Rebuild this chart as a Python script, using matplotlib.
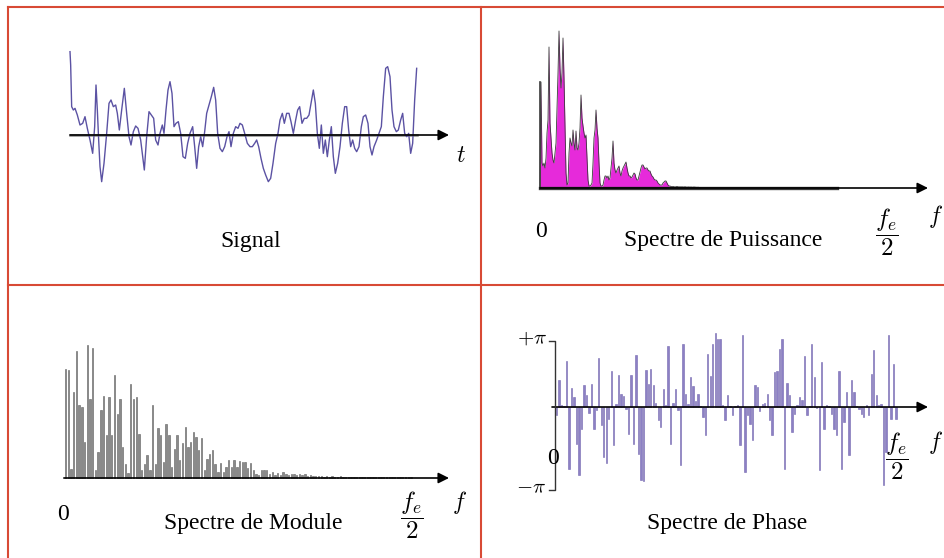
import numpy as np
import matplotlib
matplotlib.use('Agg')
import matplotlib.pyplot as plt
from matplotlib.lines import Line2D

plt.rcParams['mathtext.fontset'] = 'cm'
plt.rcParams['font.family'] = ['Liberation Serif', 'DejaVu Serif']

# ---------------- data ----------------
# signal: sample position and amplitude
signal_t = [0, 2, 5, 10, 15, 22, 30, 38, 45, 52, 60, 68, 74, 78, 82, 86, 90, 95, 102, 110,
            117, 123, 130, 137, 142, 148, 155, 163, 170, 177, 183, 190, 197, 204, 212, 218,
            223, 230, 237, 244, 251, 257, 264, 270, 277, 282, 288, 294, 300, 306, 312, 318,
            325, 332, 339, 346, 353, 360, 368, 374, 380, 386, 392, 398, 404, 410, 417, 424,
            431, 437, 443, 450, 457, 464, 471, 477, 483, 490, 497, 504, 510, 517, 524, 532,
            540, 547, 554, 560, 566, 573, 580, 587, 595, 602, 609, 617, 624, 630, 637, 643,
            650, 657, 663, 670, 677, 683, 689, 696, 703, 710, 717, 724, 730, 736, 742, 748,
            754, 760, 766, 772, 778, 784, 790, 796, 803, 810, 817, 824, 830, 836, 842, 848,
            854, 860, 867, 874, 880, 887, 894, 900, 906, 912, 920, 927, 934, 940, 947, 953,
            960, 966, 972, 979, 985, 992, 998, 1004, 1010, 1016, 1022, 1028, 1034, 1040]
signal_v = [2.50, 2.10, 0.85, 0.75, 0.80, 0.60, 0.30, 0.35, 0.55, 0.20, -0.15, -0.55, 0.25,
            1.50, 0.75, -0.15, -0.95, -1.40, -0.85, 0.05, 0.95, 1.05, 0.85, 0.90, 0.65, 0.15,
            0.75, 1.40, 0.65, -0.05, -0.30, 0.10, 0.27, 0.20, -0.15, -0.65, -1.05, -0.05, 0.70,
            0.60, 0.50, -0.15, -0.30, 0.05, 0.30, 0.05, 0.75, 1.35, 1.60, 1.25, 0.25, 0.35,
            0.40, 0.05, -0.65, -0.70, -0.25, 0.05, 0.25, -0.35, -1.00, -0.35, -0.05, -0.35,
            0.10, 0.65, 0.90, 1.15, 1.43, 1.05, 0.05, -0.40, -0.50, -0.35, -0.05, 0.10, -0.35,
            0.05, 0.25, 0.20, 0.35, 0.30, 0.05, -0.25, -0.35, -0.35, -0.25, -0.15, -0.35,
            -0.70, -1.00, -1.20, -1.40, -1.30, -0.85, -0.25, 0.05, 0.45, 0.65, 0.35, 0.65,
            0.65, 0.40, 0.05, 0.45, 0.75, 0.85, 0.35, 0.50, 0.50, 0.60, 1.00, 1.35, 0.95,
            0.05, -0.40, 0.30, -0.55, -0.15, -0.65, -0.15, 0.25, -0.65, -1.15, -0.85, -0.35,
            0.35, 0.85, 0.85, 0.15, -0.35, -0.15, -0.40, -0.50, -0.35, 0.25, 0.55, 0.60,
            0.35, -0.35, -0.60, -0.35, -0.15, 0.05, 0.25, 1.15, 2.00, 2.05, 1.75, 0.75, 0.25,
            0.10, 0.15, 0.45, 0.65, 0.05, -0.05, 0.05, -0.55, -0.25, 1.05, 2.00]

# power spectrum, one value per frequency bin
power = [0, 106, 25, 22, 25, 20, 30, 55, 68, 141, 65, 50, 35, 28, 25, 35, 45, 80, 115, 157,
         120, 100, 115, 150, 110, 60, 15, 3, 5, 35, 50, 45, 42, 58, 45, 38, 57, 40, 38, 45,
         60, 93, 70, 62, 55, 50, 53, 30, 8, 2, 2, 3, 5, 25, 50, 58, 78, 60, 50, 25,
         5, 2, 2, 3, 8, 12, 12, 10, 12, 8, 10, 20, 30, 47, 25, 18, 15, 18, 20, 22,
         15, 12, 17, 20, 22, 24, 26, 20, 15, 12, 12, 10, 11, 13, 15, 14, 10, 8, 8, 12,
         16, 20, 23, 23, 21, 19, 20, 20, 18, 17, 17, 14, 12, 11, 9, 8, 8, 7, 5, 4,
         3, 3, 3, 5, 6, 7, 7, 5, 3, 2, 2, 1.5, 1.2, 1.5, 1.2, 1.0, 1.2, 1.5, 1.2, 1.0,
         1.2, 1.0, 1.2, 1.0, 1.0, 1.2, 1.0, 0.8, 1.0, 1.0, 0.8, 1.0, 0.8, 0.8, 1.0, 0.8,
         0.8, 0.6, 0.8, 0.6, 0]

# module spectrum, one bar per frequency bin
module = [109, 108, 9, 86, 127, 73, 71, 36, 133, 79, 130, 8, 26, 68, 82, 43, 81, 43, 103, 64,
          79, 31, 14, 5, 94, 79, 81, 44, 8, 14, 23, 8, 73, 14, 50, 43, 16, 54, 43, 11,
          29, 43, 18, 35, 51, 31, 36, 46, 41, 28, 40, 8, 19, 24, 28, 14, 6, 15, 6, 11,
          18, 11, 18, 11, 17, 16, 16, 10, 15, 8, 4, 3, 8, 8, 8, 4, 6, 3, 5, 3,
          6, 4, 3, 4, 4, 3, 4, 3, 4, 2, 3, 2, 2, 2, 2, 1.5, 2, 1.5, 2, 1.5,
          1.5, 2, 1.5, 1.5, 1.5, 1.2, 1.5, 1.5, 1.2, 1.5, 1.2, 1.2, 1.5, 1.2, 1.2, 1.2,
          1, 1.2, 1.2, 1, 1.2, 1, 1, 1.2, 1, 1, 1, 1]

# phase spectrum, one bar per frequency bin
phase = [-8, 27, 2, 1, 46, -62, 19, 10, -37, -68, -22, 22, 12, -6, 23, -22, -3, 49, -18, -50,
         -56, -12, 36, -38, 3, 32, 13, 11, -2, -27, 32, -37, 52, -47, -73, -74, 37, 23, 38, 22,
         4, -13, -20, 18, 2, 61, -37, 4, 18, -3, -58, 63, 13, 3, 30, 21, 6, 13, 1, -10,
         -28, 53, 31, 63, 74, 68, 68, 2, -13, 12, 1, -8, 1, 2, -38, 72, -65, -8, -17, -33,
         22, 20, -4, 3, 4, 13, -13, -28, 35, 36, 58, 68, -62, 24, 12, -25, -7, 2, 10, 7,
         51, -8, 1, 63, 30, -1, -63, 45, -22, 2, 1, -7, -22, -28, 36, -62, -15, 15, -48, 27,
         15, 1, -2, -7, -10, 2, -8, 33, 57, 12, 2, 3, -78, -45, 72, -12, 43, -12]

panel_titles = ['Signal', 'Spectre de Puissance', 'Spectre de Module', 'Spectre de Phase']

# ---------------- figure ----------------
W, H = 944, 558
fig = plt.figure(figsize=(W / 100, H / 100), dpi=100)
fig.patch.set_facecolor('white')


def fx(x):
    return x / W


def fy(y):
    return 1 - y / H


def cell_axes(left, top, right, bottom, px0, sx, py0, sy):
    # axes over one cell, data x=0 at pixel px0, y=0 at pixel py0
    ax = fig.add_axes([fx(left), fy(bottom), (right - left) / W, (bottom - top) / H])
    ax.set_xlim((left - px0) / sx, (right - px0) / sx)
    ax.set_ylim((py0 - bottom) / sy, (py0 - top) / sy)
    ax.axis('off')
    return ax


arrow = dict(arrowstyle='-|>', color='black', lw=1.2, mutation_scale=16,
             shrinkA=0, shrinkB=0)
txt = dict(fontsize=17, ha='center', va='center')
frac = dict(fontsize=18, ha='center', va='center')

# Signal
ax1 = cell_axes(8, 7, 481, 285, px0=70, sx=1 / 3, py0=135, sy=100 / 3)
ax1.annotate('', xy=(1137, 0), xytext=(0, 0), arrowprops=arrow)
ax1.plot([0, signal_t[-1]], [0, 0], color='#8a8a8a', lw=1.8)
ax1.plot(signal_t, signal_v, color='#5b52a3', lw=1.0)
fig.text(fx(461), fy(157), r'$t$', **txt)
fig.text(fx(251), fy(241), panel_titles[0], **txt)

# Power spectrum
ax2 = cell_axes(481, 7, 944, 285, px0=540, sx=1, py0=188, sy=1)
xp = np.arange(len(power))
ax2.annotate('', xy=(388, 0), xytext=(0, 0), arrowprops=arrow)
ax2.plot([0, 297], [0, 0], color='#3c3c3c', lw=2.4)
ax2.fill_between(xp, 0, power, color='#e62ada', lw=0)
ax2.plot(xp, power, color='#3a3a3a', lw=0.6)
ax2.plot([0, 0], [0, power[1]], color='#3a3a3a', lw=1.2)
fig.text(fx(541), fy(231), '0', **txt)
fig.text(fx(723), fy(240), panel_titles[1], **txt)
fig.text(fx(887), fy(232), r'$\dfrac{f_e}{2}$', **frac)
fig.text(fx(936), fy(217), r'$f$', **txt)

# Module spectrum
ax3 = cell_axes(8, 285, 481, 558, px0=65.5, sx=2.72, py0=478, sy=1)
xm = np.arange(len(module))
ax3.annotate('', xy=((449 - 65.5) / 2.72, 0), xytext=(-0.6, 0), arrowprops=arrow)
ax3.bar(xm, module, width=0.5, color='#8a8a8a', edgecolor='#5e5e5e', lw=0.4)
fig.text(fx(63), fy(515), '0', **txt)
fig.text(fx(253), fy(523), panel_titles[2], **txt)
fig.text(fx(412), fy(515), r'$\dfrac{f_e}{2}$', **frac)
fig.text(fx(460), fy(502), r'$f$', **txt)

# Phase spectrum
step = (896 - 556.7) / (len(phase) - 1)
ax4 = cell_axes(481, 285, 944, 558, px0=556.7, sx=step, py0=407, sy=1)
xph = np.arange(len(phase))
ax4.annotate('', xy=((928 - 556.7) / step, 0), xytext=((552 - 556.7) / step, 0),
             arrowprops=arrow)
ax4.bar(xph, phase, width=0.55, color='#8c80c4', edgecolor='#7466b0', lw=0.4)
fig.add_artist(Line2D([fx(549), fx(555), fx(555), fx(549)],
                      [fy(341), fy(341), fy(490), fy(490)], color='#333333', lw=1.0))
fig.text(fx(532), fy(339), r'$+\pi$', fontsize=15, ha='center', va='center')
fig.text(fx(531), fy(489), r'$-\pi$', fontsize=15, ha='center', va='center')
fig.text(fx(553), fy(458), '0', **txt)
fig.text(fx(897), fy(456), r'$\dfrac{f_e}{2}$', **frac)
fig.text(fx(936), fy(443), r'$f$', **txt)
fig.text(fx(727), fy(524), panel_titles[3], **txt)

# red frame of the four cells
red = '#d84a35'
for xs, ys in [([8, 944], [7, 7]), ([8, 944], [285, 285]),
               ([8, 8], [7, 558]), ([481, 481], [7, 558])]:
    fig.add_artist(Line2D([fx(v) for v in xs], [fy(v) for v in ys], color=red, lw=1.5))

plt.savefig('out.png', dpi=100)
plt.close(fig)
